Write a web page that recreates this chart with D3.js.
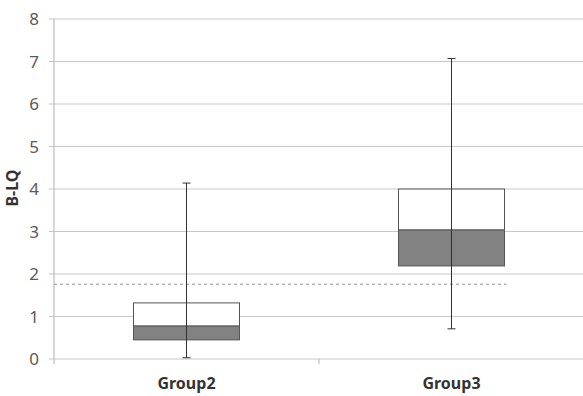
<!DOCTYPE html>
<html><head><meta charset="utf-8">
<script src="https://cdn.jsdelivr.net/npm/d3@7"></script>
<style>body{margin:0;background:#fff}</style>
</head><body>
<svg id="c" width="583" height="396"></svg>
<script>
const categories = ["Group2", "Group3"];
const whiskerLow = [0.03, 0.71];
const q1 = [0.45, 2.19];
const median = [0.78, 3.04];
const q3 = [1.32, 4.0];
const whiskerHigh = [4.14, 7.07];
const refLine = 1.76;
const yTicks = [0,1,2,3,4,5,6,7,8];

(function(){
const svg = d3.select("#c");
const mLeft = 54, mRight = 584, mTop = 19, mBottom = 359;
const x = d3.scaleBand().domain(categories).range([mLeft, mRight]).paddingInner(0).paddingOuter(0);
const y = d3.scaleLinear().domain([0, 8]).range([mBottom, mTop]);

svg.append("g").selectAll("line").data(yTicks).join("line")
  .attr("x1", mLeft - 5).attr("x2", mRight)
  .attr("y1", d => y(d)).attr("y2", d => y(d))
  .attr("stroke", "#c8c8c8").attr("stroke-width", 1.2);

svg.append("line").attr("x1", mLeft).attr("x2", mLeft).attr("y1", mTop).attr("y2", mBottom + 5)
  .attr("stroke", "#bdbdbd").attr("stroke-width", 1.2);
svg.append("g").selectAll("line").data(categories.slice(1)).join("line")
  .attr("x1", d => x(d)).attr("x2", d => x(d)).attr("y1", mBottom).attr("y2", mBottom + 5)
  .attr("stroke", "#bdbdbd").attr("stroke-width", 1.2);

svg.append("g").selectAll("text").data(yTicks).join("text")
  .attr("x", 39).attr("y", d => y(d)).attr("dy", "0.36em")
  .attr("text-anchor", "end")
  .attr("font-family", "Noto Sans, DejaVu Sans, sans-serif").attr("font-size", 17)
  .attr("fill", "#5a5a5a").text(d => d);

svg.append("text").attr("transform", `translate(18,188) rotate(-90)`)
  .attr("text-anchor", "middle")
  .attr("font-family", "Noto Sans, DejaVu Sans, sans-serif").attr("font-size", 16).attr("font-weight", "bold")
  .attr("fill", "#333").text("B-LQ");

svg.append("g").selectAll("text").data(categories).join("text")
  .attr("x", d => x(d) + x.bandwidth() / 2).attr("y", 389)
  .attr("text-anchor", "middle")
  .attr("font-family", "Noto Sans, DejaVu Sans, sans-serif").attr("font-size", 16).attr("font-weight", "bold")
  .attr("fill", "#333").text(d => d);

svg.append("line").attr("x1", mLeft).attr("x2", x(categories[1]) + x.bandwidth() / 2 + 55)
  .attr("y1", y(refLine)).attr("y2", y(refLine))
  .attr("stroke", "#909090").attr("stroke-width", 1).attr("stroke-dasharray", "3,3");

const boxW = 106;
const g = svg.append("g").selectAll("g").data(categories).join("g");
const cx = d => x(d) + x.bandwidth() / 2;

g.append("rect").attr("x", d => cx(d) - boxW / 2).attr("width", boxW)
  .attr("y", (d, i) => y(median[i])).attr("height", (d, i) => y(q1[i]) - y(median[i]))
  .attr("fill", "#828282").attr("stroke", "#555").attr("stroke-width", 1);
g.append("rect").attr("x", d => cx(d) - boxW / 2).attr("width", boxW)
  .attr("y", (d, i) => y(q3[i])).attr("height", (d, i) => y(median[i]) - y(q3[i]))
  .attr("fill", "#fff").attr("stroke", "#555").attr("stroke-width", 1);

g.append("line").attr("x1", cx).attr("x2", cx)
  .attr("y1", (d, i) => y(whiskerHigh[i])).attr("y2", (d, i) => y(whiskerLow[i]))
  .attr("stroke", "#333").attr("stroke-width", 1);
g.append("line").attr("x1", d => cx(d) - 4).attr("x2", d => cx(d) + 4)
  .attr("y1", (d, i) => y(whiskerHigh[i])).attr("y2", (d, i) => y(whiskerHigh[i]))
  .attr("stroke", "#333").attr("stroke-width", 1);
g.append("line").attr("x1", d => cx(d) - 4).attr("x2", d => cx(d) + 4)
  .attr("y1", (d, i) => y(whiskerLow[i])).attr("y2", (d, i) => y(whiskerLow[i]))
  .attr("stroke", "#333").attr("stroke-width", 1);
})();
</script>
</body></html>
